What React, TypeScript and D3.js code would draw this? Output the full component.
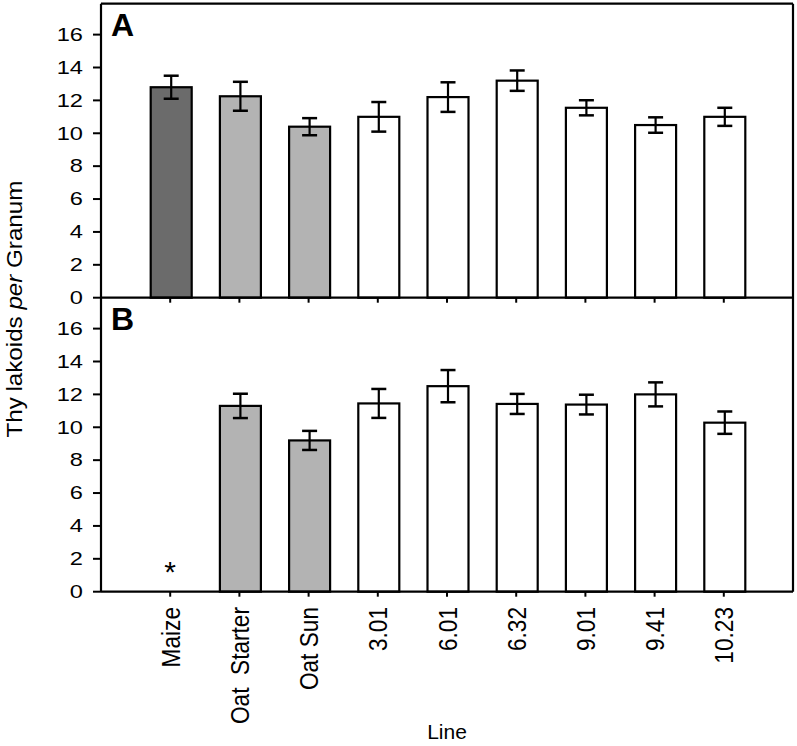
import React from "react";
import * as d3 from "d3";

const categories = ["Maize", "Oat  Starter", "Oat Sun", "3.01", "6.01", "6.32", "9.01", "9.41", "10.23"];
const fills = ["#6b6b6b", "#b3b3b3", "#b3b3b3", "#ffffff", "#ffffff", "#ffffff", "#ffffff", "#ffffff", "#ffffff"];
const valuesA = [12.8, 12.25, 10.4, 11.0, 12.2, 13.2, 11.55, 10.5, 11.0];
const errorsA = [0.7, 0.88, 0.52, 0.9, 0.9, 0.62, 0.46, 0.47, 0.55];
const valuesB: (number | null)[] = [null, 11.3, 9.2, 11.45, 12.5, 11.42, 11.38, 12.0, 10.28];
const errorsB = [0, 0.74, 0.58, 0.88, 0.98, 0.61, 0.6, 0.73, 0.68];
const yTicks = [0, 2, 4, 6, 8, 10, 12, 14, 16];

const W = 797;
const H = 746;
const left = 101;
const right = 793;
const topA = 3.7;
const bottomA = 297.7;
const bottomB = 591.7;
const yMax = 17.88;
const font = "Liberation Sans, Arial, Helvetica, sans-serif";

export default function App() {
  const x = d3.scaleLinear().domain([0, categories.length + 1]).range([left, right]);
  const yA = d3.scaleLinear().domain([0, yMax]).range([bottomA, topA]);
  const yB = d3.scaleLinear().domain([0, yMax]).range([bottomB, bottomA]);
  const barW = 41;
  const capW = 15;

  const panel = (y: d3.ScaleLinear<number, number>, vals: (number | null)[], errs: number[], key: string) => (
    <g key={key}>
      {vals.map((v, i) => {
        if (v == null) return null;
        const cx = x(i + 1) + 1;
        return (
          <g key={i}>
            <rect x={cx - barW / 2} y={y(v)} width={barW} height={y(0) - y(v)} fill={fills[i]} stroke="#000" strokeWidth={2.2} />
            <line x1={cx} x2={cx} y1={y(v + errs[i])} y2={y(v - errs[i])} stroke="#000" strokeWidth={2.2} />
            <line x1={cx - capW / 2} x2={cx + capW / 2} y1={y(v + errs[i])} y2={y(v + errs[i])} stroke="#000" strokeWidth={2.5} />
            <line x1={cx - capW / 2} x2={cx + capW / 2} y1={y(v - errs[i])} y2={y(v - errs[i])} stroke="#000" strokeWidth={2.5} />
          </g>
        );
      })}
      {yTicks.map((t) => (
        <g key={t}>
          <line x1={left - 8} x2={left} y1={y(t)} y2={y(t)} stroke="#000" strokeWidth={2} />
          <text transform={`translate(83,${y(t)}) scale(1.35,1)`} dy="0.36em" textAnchor="end" fontSize={17.5} fontFamily={font} fill="#000">
            {t}
          </text>
        </g>
      ))}
      {categories.map((c, i) => (
        <line key={c} x1={x(i + 1)} x2={x(i + 1)} y1={y(0)} y2={y(0) + 5} stroke="#000" strokeWidth={2} />
      ))}
      <line x1={left} x2={right} y1={y(0)} y2={y(0)} stroke="#000" strokeWidth={2.2} />
    </g>
  );

  return (
    <svg width={W} height={H} style={{ position: "absolute", left: 0, top: 0, background: "#fff" }}>
      <rect x={0} y={0} width={W} height={H} fill="#fff" />
      {panel(yA, valuesA, errorsA, "A")}
      {panel(yB, valuesB, errorsB, "B")}
      <line x1={left} x2={right} y1={topA} y2={topA} stroke="#000" strokeWidth={2.2} />
      <line x1={left} x2={left} y1={topA} y2={bottomB} stroke="#000" strokeWidth={2.2} />
      <line x1={right} x2={right} y1={topA} y2={bottomB} stroke="#000" strokeWidth={2.2} />
      <text x={111} y={36} fontSize={32} fontWeight="bold" fontFamily={font}>A</text>
      <text x={111} y={330} fontSize={32} fontWeight="bold" fontFamily={font}>B</text>
      <text x={x(1)} y={582} textAnchor="middle" fontSize={30} fontFamily={font}>*</text>
      {categories.map((c, i) => (
        <text
          key={c}
          transform={`translate(${x(i + 1) + 9.5},607) rotate(-90) scale(1.03,1.15)`}
          textAnchor="end"
          fontSize={22}
          fontFamily={font}
          style={{ whiteSpace: "pre" }}
        >
          {c}
        </text>
      ))}
      <text transform={`translate(22,309) rotate(-90) scale(1.1,1)`} textAnchor="middle" fontSize={22} fontFamily={font}>
        <tspan>Thy</tspan>
        <tspan dx={5}>lakoids </tspan>
        <tspan fontStyle="italic">per</tspan>
        <tspan> Granum</tspan>
      </text>
      <text x={(left + right) / 2} y={739} textAnchor="middle" fontSize={21} fontFamily={font}>Line</text>
    </svg>
  );
}
